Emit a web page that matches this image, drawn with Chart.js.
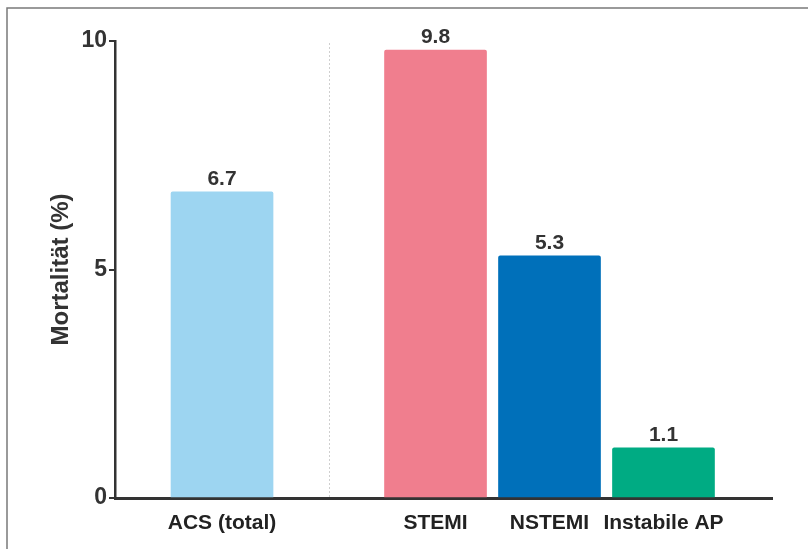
<!DOCTYPE html>
<html>
<head>
<meta charset="utf-8">
<script src="https://cdn.jsdelivr.net/npm/chart.js@4"></script>
<style>
  html, body { margin: 0; padding: 0; background: #fff; }
  #wrap { position: relative; width: 808px; height: 549px; }
</style>
</head>
<body>
<div id="wrap"><canvas id="mortChart"></canvas></div>
<script>
// Daten
const kategorien = ['ACS (total)', 'STEMI', 'NSTEMI', 'Instabile AP'];
const mortalitaet = [6.7, 9.8, 5.3, 1.1];
const balkenFarben = ['#9dd5f1', '#f07e8e', '#0070ba', '#00ab83'];
const yTicks = [0, 5, 10];

// ACS (total) steht allein, danach eine Lücke vor den Untergruppen
const LUECKE = 0.873;
const xPos = kategorien.map((k, i) => i === 0 ? 0 : i + LUECKE);

Chart.defaults.font.family = '"Liberation Sans", Arial, sans-serif';

// Rahmen oben/links wie im Original
const rahmen = {
    id: 'rahmen',
    beforeDraw(chart) {
        const c = chart.ctx;
        c.save();
        c.fillStyle = '#fff';
        c.fillRect(0, 0, chart.width, chart.height);
        c.strokeStyle = '#7a7a7a';
        c.lineWidth = 1.5;
        c.beginPath();
        c.moveTo(7, chart.height);
        c.lineTo(7, 8);
        c.lineTo(chart.width, 8);
        c.stroke();
        c.restore();
    }
};

// gepunktete Trennlinie zwischen ACS und den Untergruppen
const trennlinie = {
    id: 'trennlinie',
    beforeDatasetsDraw(chart) {
        const c = chart.ctx;
        const xs = chart.scales.x;
        const x = Math.round(xs.getPixelForValue((xPos[0] + xPos[1]) / 2)) + 0.5;
        c.save();
        c.strokeStyle = '#cfcfcf';
        c.lineWidth = 1;
        c.setLineDash([2, 2]);
        c.beginPath();
        c.moveTo(x, chart.chartArea.top + 2);
        c.lineTo(x, chart.chartArea.bottom);
        c.stroke();
        c.restore();
    }
};

// Werte über den Balken
const werte = {
    id: 'werte',
    afterDatasetsDraw(chart) {
        const c = chart.ctx;
        const meta = chart.getDatasetMeta(0);
        c.save();
        c.fillStyle = '#333';
        c.font = 'bold 21px "Liberation Sans", Arial, sans-serif';
        c.textAlign = 'center';
        c.textBaseline = 'middle';
        meta.data.forEach((bar, i) => {
            c.fillText(mortalitaet[i].toFixed(1), bar.x, bar.y - 13);
        });
        c.restore();
    }
};

new Chart(document.getElementById('mortChart'), {
    type: 'bar',
    data: {
        datasets: [{
            data: kategorien.map((k, i) => ({ x: xPos[i], y: mortalitaet[i] })),
            backgroundColor: balkenFarben,
            barThickness: 102,
            borderRadius: 2,
            borderSkipped: 'bottom'
        }]
    },
    options: {
        responsive: true,
        maintainAspectRatio: false,
        animation: false,
        layout: { padding: { top: 41, right: 36, left: 0, bottom: 0 } },
        plugins: { legend: { display: false }, tooltip: { enabled: false } },
        scales: {
            x: {
                type: 'linear',
                offset: false,
                min: -0.939,
                max: 4.825,
                grid: { display: false },
                border: { display: true, color: '#333', width: 3 },
                afterBuildTicks: s => { s.ticks = xPos.map(v => ({ value: v })); },
                afterFit: s => { s.height = 51; },
                ticks: {
                    autoSkip: false,
                    maxRotation: 0,
                    padding: 5,
                    color: '#222',
                    font: { size: 21, weight: 'bold' },
                    callback: (v, i) => kategorien[i]
                }
            },
            y: {
                min: 0,
                max: 10,
                afterBuildTicks: s => { s.ticks = yTicks.map(v => ({ value: v })); },
                afterFit: s => { s.width = 115; },
                grid: { drawOnChartArea: false, drawTicks: true, tickLength: 6, color: '#333', lineWidth: 2 },
                border: { display: true, color: '#333', width: 2.5 },
                ticks: {
                    padding: 2,
                    color: '#333',
                    font: { size: 23, weight: 'bold' }
                },
                title: {
                    display: true,
                    text: 'Mortalität (%)',
                    color: '#333',
                    font: { size: 24, weight: 'bold' },
                    padding: { top: 47, bottom: 0 }
                }
            }
        }
    },
    plugins: [rahmen, trennlinie, werte]
});
</script>
</body>
</html>
